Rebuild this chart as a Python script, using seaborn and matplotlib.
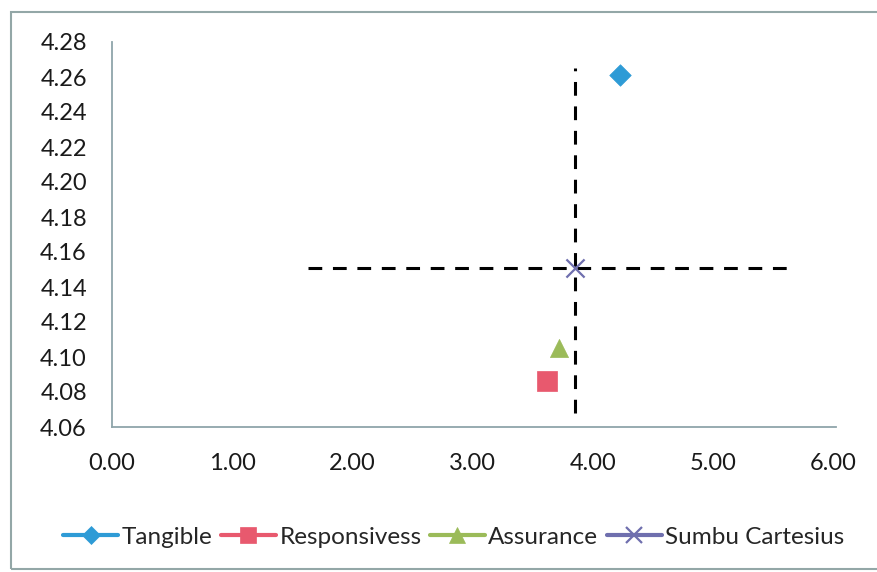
import matplotlib
matplotlib.use("Agg")
import matplotlib.pyplot as plt
from matplotlib.lines import Line2D
from matplotlib.patches import Rectangle
import seaborn as sns
import pandas as pd

# Mean scores per service dimension (x = performance, y = importance)
categories = ["Tangible", "Responsivess", "Assurance", "Sumbu Cartesius"]
x_values = [4.22, 3.62, 3.72, 3.85]
y_values = [4.261, 4.086, 4.105, 4.151]

# Cartesian axes through the centre point
v_line_x = [3.85, 3.85]
v_line_y = [4.068, 4.265]
h_line_x = [1.63, 5.62]
h_line_y = [4.151, 4.151]

x_ticks = [0, 1, 2, 3, 4, 5, 6]
y_ticks = [4.06, 4.08, 4.10, 4.12, 4.14, 4.16, 4.18, 4.20, 4.22, 4.24, 4.26, 4.28]

colors = ["#2e9bd6", "#e8596e", "#9bbb59", "#6f6fae"]
markers = ["D", "s", "^", "x"]
sizes = [120, 190, 170, 170]

sns.set_theme(style="white")
plt.rcParams["font.family"] = ["Lato", "DejaVu Sans"]

fig = plt.figure(figsize=(8.78, 5.72), dpi=100)
ax = fig.add_axes([112 / 878, 1 - 427 / 572, (836 - 112) / 878, (427 - 42) / 572])

df = pd.DataFrame({"x": x_values, "y": y_values, "cat": categories})

# dashed quadrant dividers
ax.plot(v_line_x, v_line_y, color="black", lw=2.2, dashes=(4.5, 3.5), zorder=2)
ax.plot(h_line_x, h_line_y, color="black", lw=2.2, dashes=(4.5, 3.5), zorder=2)

for i, cat in enumerate(categories):
    sub = df[df["cat"] == cat]
    kw = dict(linewidth=1.6) if markers[i] == "x" else dict(edgecolor=colors[i], linewidth=0.5)
    sns.scatterplot(data=sub, x="x", y="y", ax=ax, marker=markers[i], s=sizes[i],
                    color=colors[i], zorder=3, legend=False, **kw)

ax.set_xlim(0, 6.02)
ax.set_ylim(4.06, 4.28)
ax.set_xticks(x_ticks)
ax.set_xticklabels([f"{v:.2f}" for v in x_ticks])
ax.set_yticks(y_ticks)
ax.set_yticklabels([f"{v:.2f}" for v in y_ticks])
ax.set_xlabel("")
ax.set_ylabel("")
ax.tick_params(axis="both", length=0, labelsize=17, colors="#1a1a1a")
ax.tick_params(axis="x", pad=19)
ax.tick_params(axis="y", pad=18)

for side in ["top", "right"]:
    ax.spines[side].set_visible(False)
for side in ["left", "bottom"]:
    ax.spines[side].set_color("#8fa5aa")
    ax.spines[side].set_linewidth(1.3)

handles = [
    Line2D([0], [0], color=colors[i], lw=3, marker=markers[i],
           markersize=(9 if markers[i] == "D" else 12), markeredgewidth=(1.6 if markers[i] == "x" else 0.5),
           markeredgecolor=colors[i], markerfacecolor=colors[i])
    for i in range(len(categories))
]
fig.legend(handles, categories, loc="center", bbox_to_anchor=(0.517, 1 - 537 / 572),
           ncol=4, frameon=False, fontsize=17.5, handlelength=2.25, handletextpad=0.15,
           columnspacing=0.35)

# outer chart border
fig.patches.append(Rectangle((11 / 878, 1 - 569 / 572), 1.2, (569 - 12) / 572,
                             transform=fig.transFigure, fill=False,
                             edgecolor="#93a7a7", linewidth=1.5, zorder=0))

fig.savefig("out.png", dpi=100)
